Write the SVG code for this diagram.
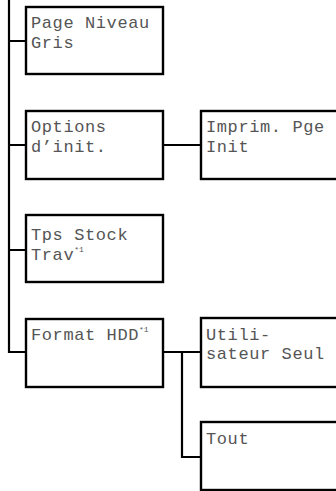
<svg xmlns="http://www.w3.org/2000/svg" width="336" height="491" viewBox="0 0 336 491">
<style>
.box{fill:#fff;stroke:#000;stroke-width:2.4}
.t{font-family:"Liberation Mono","Courier New",monospace;font-size:17px;letter-spacing:0.6px;fill:#555}
.sup{font-family:"Liberation Mono","Courier New",monospace;font-size:8px;letter-spacing:0;fill:#555}
.c{fill:none;stroke:#000;stroke-width:2.2}
</style>
<rect width="336" height="491" fill="#fff"/>
<g id="connectors">
<path class="c" d="M9,0 V353 M9,41 H26 M9,145 H26 M9,250 H26 M9,352 H26"/>
<path class="c" d="M163,145 H201 M163,352 H201 M182,351 V457 H201"/>
</g>
<g id="page-niveau-gris">
<rect class="box" x="26" y="7" width="137" height="67"/>
<text class="t" x="31" y="28">Page Niveau</text>
<text class="t" x="31" y="48">Gris</text>
</g>
<g id="options-init">
<rect class="box" x="26" y="111" width="137" height="68"/>
<text class="t" x="31" y="132">Options</text>
<text class="t" x="31" y="152">d’init.</text>
</g>
<g id="imprim-pge-init">
<rect class="box" x="201" y="111" width="200" height="68"/>
<text class="t" x="206" y="132">Imprim. Pge</text>
<text class="t" x="206" y="152">Init</text>
</g>
<g id="tps-stock-trav">
<rect class="box" x="26" y="215" width="137" height="67"/>
<text class="t" x="31" y="240">Tps Stock</text>
<text class="t" x="31" y="260">Trav<tspan class="sup" dy="-8">*1</tspan></text>
</g>
<g id="format-hdd">
<rect class="box" x="26" y="319" width="137" height="68"/>
<text class="t" x="31" y="340">Format HDD<tspan class="sup" dy="-8">*1</tspan></text>
</g>
<g id="utilisateur-seul">
<rect class="box" x="201" y="318" width="200" height="69"/>
<text class="t" x="206" y="340">Utili-</text>
<text class="t" x="206" y="359">sateur Seul</text>
</g>
<g id="tout">
<rect class="box" x="201" y="422" width="200" height="68"/>
<text class="t" x="206" y="444">Tout</text>
</g>
</svg>
